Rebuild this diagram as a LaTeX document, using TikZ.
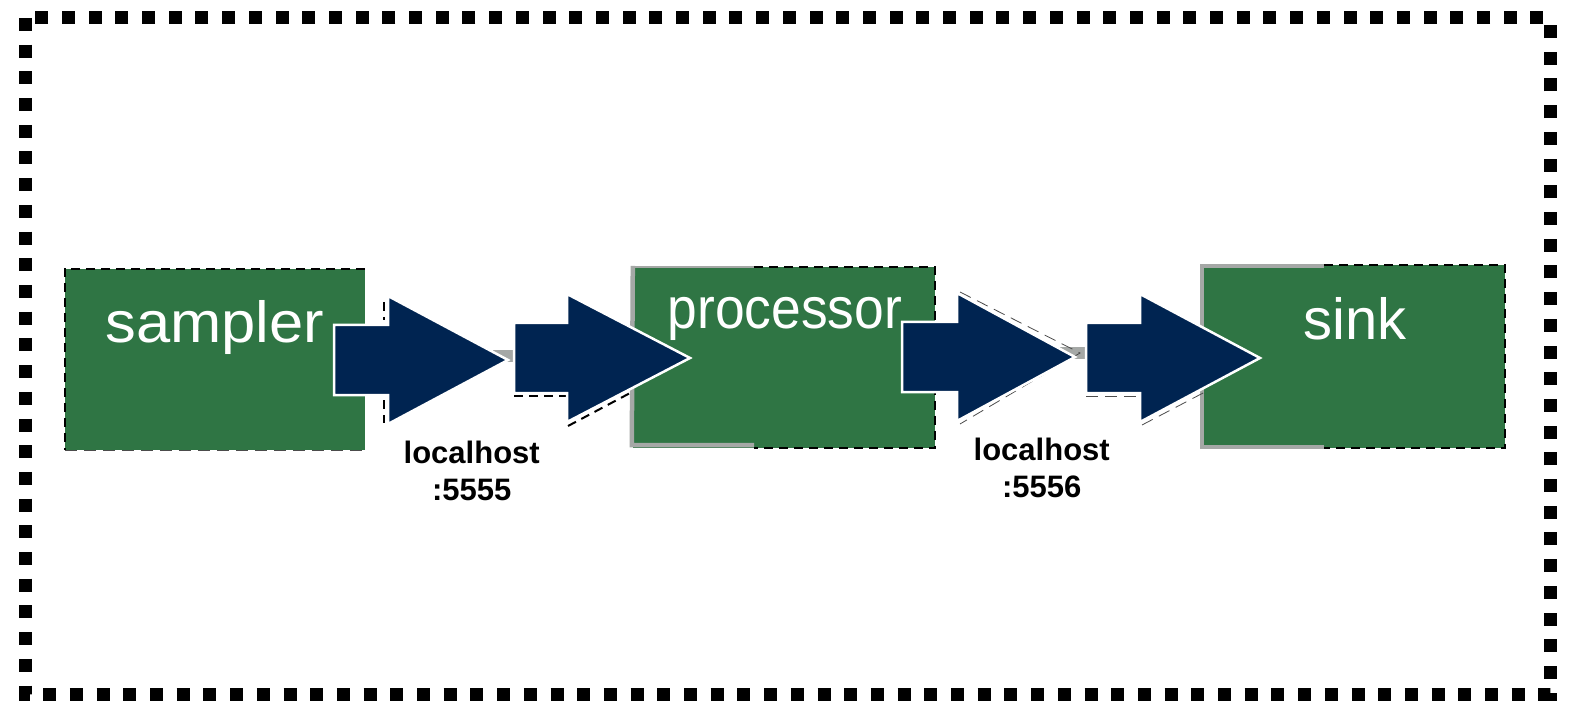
\documentclass[tikz,border=0pt]{standalone}
\usepackage{fontspec}
\setmainfont{Liberation Sans}
\definecolor{boxgreen}{RGB}{47,117,68}
\definecolor{navy}{RGB}{0,36,81}
\definecolor{shadowgray}{RGB}{165,168,166}
\newcommand\blockarrow[4]{%
  \filldraw[arrowbody] (#1,#4-35) -- (#2,#4-35) -- (#2,#4-64) -- (#3,#4) -- (#2,#4+64) -- (#2,#4+35) -- (#1,#4+35) -- cycle;}
\begin{document}
\begin{tikzpicture}[x=1pt,y=-1pt,
  box/.style={rectangle, fill=boxgreen, inner sep=0pt, minimum width=#1, minimum height=181pt},
  boxtext/.style={text=white, font=\fontsize{58}{62}\selectfont, inner sep=0pt, anchor=base},
  porttext/.style={font=\bfseries\fontsize{31}{37}\selectfont, align=center, inner sep=0pt, anchor=north},
  arrowbody/.style={fill=navy, draw=white, line width=2.5pt, line join=miter},
  thindash/.style={draw=black, line width=1.6pt, dash pattern=on 9pt off 6pt},
  faintdash/.style={draw=black!70, line width=0.8pt, dash pattern=on 12pt off 7pt},
  shadow/.style={draw=shadowgray, line width=4.5pt},
  link/.style={draw=shadowgray, line width=12pt},
  frame/.style={draw=black, line width=13pt, dash pattern=on 13pt off 13.7pt}]
\useasboundingbox (0,0) rectangle (1569,703);
\fill[white] (0,0) rectangle (1569,703);
% outer dotted frame
\draw[frame] (25,18) rectangle (1550,694);
% boxes
\node[box=300pt] (sampler) at (215,359.5) {};
\node[box=302pt] (processor) at (784,357.5) {};
\node[box=302pt, minimum height=183pt] (sink) at (1354,356.5) {};
% box borders
\draw[thindash] (sampler.north east) -- (sampler.north west) -- (sampler.south west);
\draw[faintdash] (sampler.south west) -- (sampler.south east);
\draw[shadow] ([yshift=1pt]processor.north west) -- ([xshift=-1pt,yshift=3pt]processor.south west) -- ([xshift=-30pt,yshift=3pt]processor.south);
\draw[shadow, line width=1.5pt] (processor.north west) -- ([xshift=-30pt]processor.north);
\draw[thindash] ([xshift=-30pt]processor.north) -- (processor.north east) -- (processor.south east) -- ([xshift=-30pt]processor.south);
\draw[shadow] ([xshift=-30pt,yshift=-1pt]sink.north) -- ([xshift=-1pt,yshift=-1pt]sink.north west) -- ([xshift=-1pt,yshift=1pt]sink.south west) -- ([xshift=-30pt,yshift=1pt]sink.south);
\draw[thindash] ([xshift=-30pt]sink.north) -- (sink.north east) -- (sink.south east) -- ([xshift=-30pt]sink.south);
% box texts
\node[boxtext] (sampler-t) at (215,342) {\scalebox{1.06}[1]{sampler}};
\node[boxtext] (processor-t) at (785,328) {\scalebox{0.92}[1]{processor}};
\node[boxtext] (sink-t) at (1355,340) {sink};
% grey links between arrow pairs
\coordinate (l1a) at (493,356);
\coordinate (l1b) at (516,356);
\coordinate (l2a) at (1060,353);
\coordinate (l2b) at (1088,353);
\draw[link] (l1a) -- (l1b);
\draw[link] (l2a) -- (l2b);
% dashed fragments of hidden outlines
\coordinate (d1) at (384,302);
\coordinate (d2) at (384,320);
\coordinate (d3) at (384,400);
\coordinate (d4) at (384,423);
\draw[thindash] (d1) -- (d2);
\draw[thindash] (d3) -- (d4);
\coordinate (d5) at (568,426);
\coordinate (d6) at (632,392);
\coordinate (d7) at (514,396);
\coordinate (d8) at (566,396);
\draw[thindash, line width=2pt] (d5) -- (d6);
\draw[thindash, line width=2pt] (d7) -- (d8);
\coordinate (e1) at (960,292);
\coordinate (e2) at (1080,353);
\coordinate (e3) at (960,424);
\coordinate (e4) at (1086,396);
\coordinate (e5) at (1136,396);
\coordinate (e6) at (1142,425);
\coordinate (e7) at (1205,392);
\draw[faintdash] (e1) -- (e2) -- (e3);
\draw[faintdash] (e4) -- (e5);
\draw[faintdash] (e6) -- (e7);
% block arrows
\blockarrow{334}{388}{508}{360}
\blockarrow{514}{567}{690}{358}
\blockarrow{902}{957}{1075}{357}
\blockarrow{1086}{1140}{1260}{358}
% port labels
\node[porttext] (port1) at (471.7,440.8) {localhost\\:5555};
\node[porttext] (port2) at (1041.7,437.8) {localhost\\:5556};
\end{tikzpicture}
\end{document}
